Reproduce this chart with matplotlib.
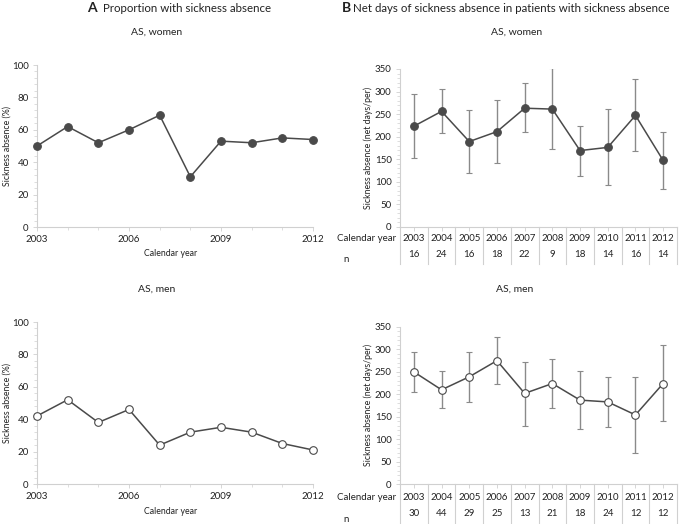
import matplotlib
matplotlib.use("Agg")
import matplotlib.pyplot as plt
import matplotlib.transforms as mtransforms
from matplotlib.ticker import MultipleLocator

plt.rcParams['font.family'] = ['Lato', 'DejaVu Sans']

years = [2003, 2004, 2005, 2006, 2007, 2008, 2009, 2010, 2011, 2012]
year_ticks_a = [2003, 2006, 2009, 2012]

prop_women = [50, 62, 52, 60, 69, 31, 53, 52, 55, 54]
prop_men = [42, 52, 38, 46, 24, 32, 35, 32, 25, 21]

days_women = [223, 256, 189, 211, 263, 261, 169, 176, 247, 147]
days_women_lo = [153, 207, 119, 141, 210, 172, 113, 93, 167, 83]
days_women_hi = [294, 306, 258, 281, 318, 352, 224, 261, 327, 210]
n_women = [16, 24, 16, 18, 22, 9, 18, 14, 16, 14]

days_men = [250, 210, 239, 275, 202, 224, 187, 183, 154, 224]
days_men_lo = [205, 169, 183, 222, 129, 169, 122, 126, 70, 141]
days_men_hi = [295, 253, 294, 328, 273, 279, 252, 239, 239, 310]
n_men = [30, 44, 29, 25, 13, 21, 18, 24, 12, 12]

LINE = '#4a4a4a'
AXC = '#d0d0d0'
TXT = '#222222'

fig = plt.figure(figsize=(6.85, 5.24), dpi=100)

W, H = 685.0, 524.0
def rect(x0, y_top, x1, y_bot):
    return [x0 / W, 1 - y_bot / H, (x1 - x0) / W, (y_bot - y_top) / H]

def ftext(x, y, s, **kw):
    kw.setdefault('color', TXT)
    kw.setdefault('ha', 'center')
    kw.setdefault('va', 'center')
    return fig.text(x / W, 1 - y / H, s, **kw)


def style_axes(ax):
    for s in ['top', 'right']:
        ax.spines[s].set_visible(False)
    for s in ['left', 'bottom']:
        ax.spines[s].set_color(AXC)
        ax.spines[s].set_linewidth(0.8)
    ax.tick_params(colors=AXC, labelcolor=TXT, labelsize=7, width=0.6)
    ax.tick_params(which='minor', colors=AXC, width=0.5, length=2)


def panel_a(ax, vals, filled):
    ax.plot(years, vals, color=LINE, lw=1.1, marker='o', ms=5.5,
            mfc=LINE if filled else 'white', mec=LINE, mew=0.8, clip_on=False, zorder=3)
    ax.set_xlim(2003, 2012)
    ax.set_ylim(0, 100)
    ax.set_xticks(year_ticks_a)
    ax.set_xticks(years, minor=True)
    ax.set_yticks([0, 20, 40, 60, 80, 100])
    ax.yaxis.set_minor_locator(MultipleLocator(4))
    style_axes(ax)
    ax.tick_params(axis='x', which='major', length=3, pad=3)
    ax.tick_params(axis='y', which='major', length=3, pad=3)


def panel_b(ax, vals, lo, hi, ns, filled, row1, row2, line_bot):
    yerr = [[v - l for v, l in zip(vals, lo)], [h - v for v, h in zip(vals, hi)]]
    ax.errorbar(years, vals, yerr=yerr, fmt='none', ecolor='#8a8a8a', elinewidth=1.0,
                capsize=2.5, capthick=0.8, zorder=2)
    ax.plot(years, vals, color=LINE, lw=1.1, marker='o', ms=5.5,
            mfc=LINE if filled else 'white', mec=LINE, mew=0.8, zorder=3)
    ax.set_xlim(2002.5, 2012.5)
    ax.set_ylim(0, 350)
    ax.set_yticks(range(0, 351, 50))
    ax.yaxis.set_minor_locator(MultipleLocator(10))
    ax.set_xticks(years)
    ax.set_xticklabels([])
    style_axes(ax)
    ax.tick_params(axis='x', which='major', length=3)
    ax.tick_params(axis='y', which='major', length=3, pad=3)
    trans = mtransforms.blended_transform_factory(ax.transData, ax.transAxes)
    for b in [y - 0.5 for y in years] + [years[-1] + 0.5]:
        ax.plot([b, b], [0, line_bot], transform=trans, color=AXC, lw=0.8, clip_on=False)
    for y, n in zip(years, ns):
        ax.text(y, row1, str(y), transform=trans, ha='center', va='center',
                fontsize=7, color=TXT)
        ax.text(y, row2, str(n), transform=trans, ha='center', va='center',
                fontsize=7, color=TXT)
    ax.text(-0.015, row1, 'Calendar year', transform=ax.transAxes, ha='right',
            va='center', fontsize=7, color=TXT)


# Panel A
ax1 = fig.add_axes(rect(37, 65, 313, 227))
panel_a(ax1, prop_women, True)
ax3 = fig.add_axes(rect(37, 322, 313, 484))
panel_a(ax3, prop_men, False)
ftext(7, 146, 'Sickness absence (%)', fontsize=6.3, rotation=90)
ftext(7, 403, 'Sickness absence (%)', fontsize=6.3, rotation=90)
ftext(171, 254, 'Calendar year', fontsize=6.3)
ftext(171, 511, 'Calendar year', fontsize=6.3)

# Panel B
ax2 = fig.add_axes(rect(400, 69, 677, 226.7))
panel_b(ax2, days_women, days_women_lo, days_women_hi, n_women, True, -0.072, -0.175, -0.235)
ftext(346, 259, 'n', fontsize=7)
ax4 = fig.add_axes(rect(400, 327, 677, 484))
panel_b(ax4, days_men, days_men_lo, days_men_hi, n_men, False, -0.083, -0.19, -0.26)
ftext(346, 519, 'n', fontsize=7)
ftext(368, 148, 'Sickness absence (net days/per)', fontsize=6.3, rotation=90)
ftext(368, 405, 'Sickness absence (net days/per)', fontsize=6.3, rotation=90)

# Titles
ftext(87, 8, 'A', fontsize=10, fontweight='bold', ha='left')
ftext(103, 8, 'Proportion with sickness absence', fontsize=8.3, ha='left')
ftext(342, 8, 'B', fontsize=10, fontweight='bold', ha='left')
ftext(353, 8, 'Net days of sickness absence in patients with sickness absence',
      fontsize=8.3, ha='left')

ftext(157, 32, 'AS, women', fontsize=7.5)
ftext(157, 289, 'AS, men', fontsize=7.5)
ftext(517, 32, 'AS, women', fontsize=7.5)
ftext(515, 289, 'AS, men', fontsize=7.5)

fig.savefig('out.png', dpi=100)
